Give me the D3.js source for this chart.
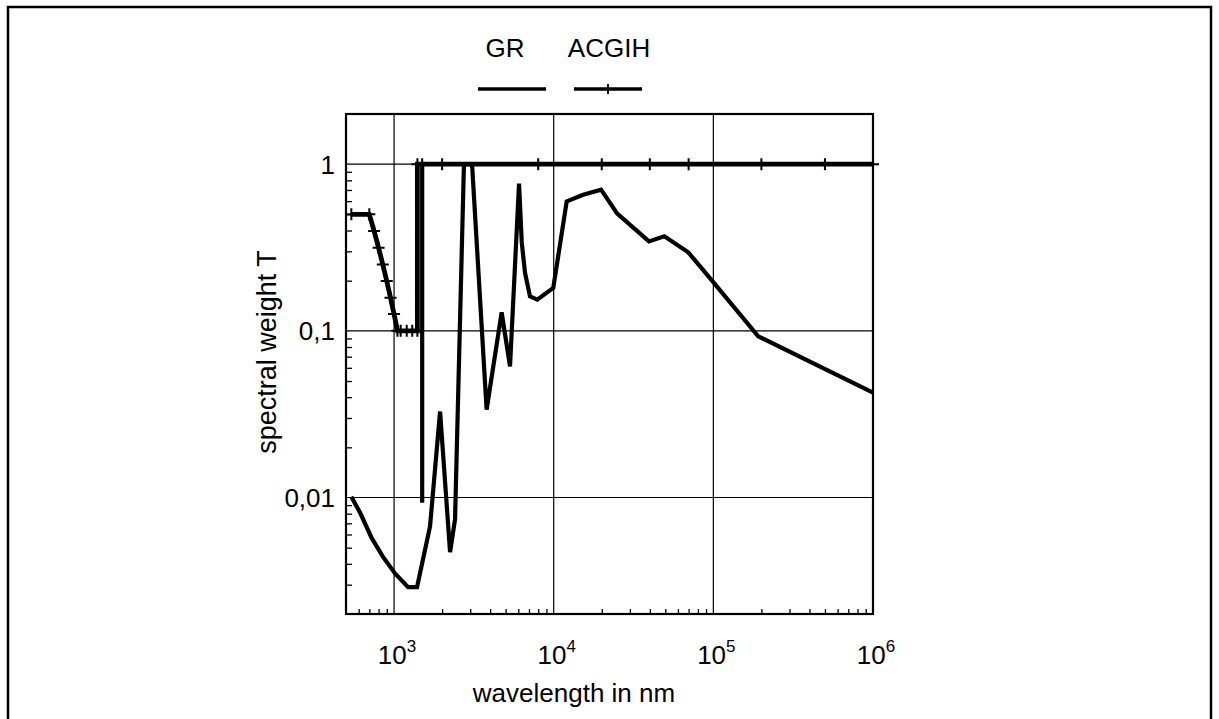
<!DOCTYPE html>
<html>
<head>
<meta charset="utf-8">
<script src="https://cdn.jsdelivr.net/npm/d3@7"></script>
<style>
  body { margin: 0; background: #fff; }
  svg { display: block; }
  text { font-family: Arial, "Liberation Sans", sans-serif; fill: #000; }
</style>
</head>
<body>
<svg id="chart" width="1219" height="719"></svg>
<script>
// GR weighting curve (wavelength in nm, spectral weight T)
const grWavelength = [540, 613, 725, 853, 1014, 1224, 1393, 1680, 1942, 2243, 2410, 2740, 3080,
  3800, 4720, 5325, 6065, 6310, 6610, 7100, 7890, 9940, 12060, 15300, 19800, 25000, 39500,
  49300, 69600, 99000, 191000, 1000000];
const grWeight = [0.0101, 0.0081, 0.0057, 0.0044, 0.0035, 0.0029, 0.0029, 0.0067, 0.0328, 0.0047,
  0.0074, 1, 1, 0.0337, 0.129, 0.0612, 0.764, 0.338, 0.223, 0.161, 0.154, 0.181, 0.598, 0.656,
  0.703, 0.505, 0.344, 0.369, 0.296, 0.198, 0.0927, 0.0426];
// narrow GR absorption line near 1.5 µm
const grSpikeWavelength = [1500, 1500];
const grSpikeWeight = [0.0093, 1];

// ACGIH weighting curve
const acgihWavelength = [540, 700, 750, 800, 850, 900, 950, 1000, 1050, 1100, 1200, 1300, 1400,
  1400, 1500, 2000, 8000, 20000, 40000, 70000, 200000, 500000, 1000000];
const acgihWeight = [0.5, 0.5, 0.397, 0.315, 0.25, 0.199, 0.158, 0.126, 0.1, 0.1, 0.1, 0.1, 0.1,
  1, 1, 1, 1, 1, 1, 1, 1, 1, 1];

// axis ticks
const xMajor = [1e3, 1e4, 1e5, 1e6];
const xMajorExp = ["3", "4", "5", "6"];
const yMajor = [1, 0.1, 0.01];
const yMajorLabels = ["1", "0,1", "0,01"];
const seriesNames = ["GR", "ACGIH"];

const svg = d3.select("#chart");
const plotLeft = 346, plotRight = 873, plotTop = 114, plotBottom = 614;

const x = d3.scaleLog().domain([500, 1e6]).range([plotLeft, plotRight]);
const y = d3.scaleLog().domain([0.002, 2]).range([plotBottom, plotTop]);

// page border
svg.append("rect")
  .attr("x", 8).attr("y", 7).attr("width", 1203).attr("height", 725)
  .attr("fill", "none").attr("stroke", "#000").attr("stroke-width", 2.5);

// grid lines at the decades
const grid = svg.append("g").attr("stroke", "#000").attr("stroke-width", 1.2);
grid.selectAll("line.v").data(xMajor.slice(0, 3)).join("line").attr("class", "v")
  .attr("x1", d => x(d)).attr("x2", d => x(d)).attr("y1", plotTop).attr("y2", plotBottom);
grid.selectAll("line.h").data(yMajor).join("line").attr("class", "h")
  .attr("y1", d => y(d)).attr("y2", d => y(d)).attr("x1", plotLeft).attr("x2", plotRight);

// minor ticks pointing inwards
const xMinor = [];
for (let e = 2; e <= 5; e++) for (let m = 2; m <= 9; m++) {
  const v = m * Math.pow(10, e);
  if (v > 500 && v < 1e6) xMinor.push(v);
}
const yMinor = [];
for (let e = -3; e <= 0; e++) for (let m = 2; m <= 9; m++) {
  const v = m * Math.pow(10, e);
  if (v > 0.002 && v < 2) yMinor.push(v);
}
svg.append("g").attr("transform", `translate(0,${plotBottom})`)
  .call(d3.axisBottom(x).tickValues(xMinor).tickSize(-5).tickFormat(""))
  .call(g => g.select(".domain").remove())
  .call(g => g.selectAll("line").attr("stroke-width", 1.3));
svg.append("g").attr("transform", `translate(${plotLeft},0)`)
  .call(d3.axisLeft(y).tickValues(yMinor).tickSize(-6).tickFormat(""))
  .call(g => g.select(".domain").remove())
  .call(g => g.selectAll("line").attr("stroke-width", 1.3));

// plot frame
svg.append("rect")
  .attr("x", plotLeft).attr("y", plotTop)
  .attr("width", plotRight - plotLeft).attr("height", plotBottom - plotTop)
  .attr("fill", "none").attr("stroke", "#000").attr("stroke-width", 2.2);

// curves
const line = d3.line().x(d => x(d[0])).y(d => y(d[1]));
const grPts = d3.zip(grWavelength, grWeight);
const grSpikePts = d3.zip(grSpikeWavelength, grSpikeWeight);
const acgihPts = d3.zip(acgihWavelength, acgihWeight);

svg.append("path").datum(grPts).attr("d", line)
  .attr("fill", "none").attr("stroke", "#000").attr("stroke-width", 4.2);
svg.append("path").datum(grSpikePts).attr("d", line)
  .attr("fill", "none").attr("stroke", "#000").attr("stroke-width", 4.2);
svg.append("path").datum(acgihPts).attr("d", line)
  .attr("fill", "none").attr("stroke", "#000").attr("stroke-width", 4.8);

// "+" markers on the ACGIH curve
const crossPath = (cx, cy, r) => `M${cx - r},${cy}H${cx + r}M${cx},${cy - r}V${cy + r}`;
svg.append("g").selectAll("path").data(acgihPts).join("path")
  .attr("d", d => crossPath(x(d[0]), y(d[1]), 6))
  .attr("stroke", "#000").attr("stroke-width", 2).attr("fill", "none");

// tick labels
svg.append("g").selectAll("text").data(yMajor).join("text")
  .attr("x", 335).attr("y", d => y(d)).attr("dy", "0.36em")
  .attr("text-anchor", "end").attr("font-size", 26)
  .text((d, i) => yMajorLabels[i]);

const xl = svg.append("g").selectAll("text").data(xMajor).join("text")
  .attr("x", d => x(d) + 3).attr("y", 664).attr("text-anchor", "middle").attr("font-size", 26);
xl.append("tspan").text("10");
xl.append("tspan").attr("dy", -12).attr("font-size", 17).text((d, i) => xMajorExp[i]);

// axis titles
svg.append("text").attr("x", 574).attr("y", 702).attr("text-anchor", "middle")
  .attr("font-size", 26).text("wavelength in nm");
svg.append("text").attr("transform", "translate(276,352) rotate(-90)")
  .attr("text-anchor", "middle").attr("font-size", 27).text("spectral weight T");

// legend
const legendTextX = [505, 609];
const legendLineX = [512, 608];
const lg = svg.append("g");
lg.selectAll("text").data(seriesNames).join("text")
  .attr("x", (d, i) => legendTextX[i]).attr("y", 57).attr("text-anchor", "middle")
  .attr("font-size", 26).text(d => d);
lg.selectAll("line").data(seriesNames).join("line")
  .attr("x1", (d, i) => legendLineX[i] - 34).attr("x2", (d, i) => legendLineX[i] + 34)
  .attr("y1", 89).attr("y2", 89).attr("stroke", "#000").attr("stroke-width", 3.5);
lg.append("path").attr("d", crossPath(legendLineX[1], 89, 5))
  .attr("stroke", "#000").attr("stroke-width", 2);
</script>
</body>
</html>
